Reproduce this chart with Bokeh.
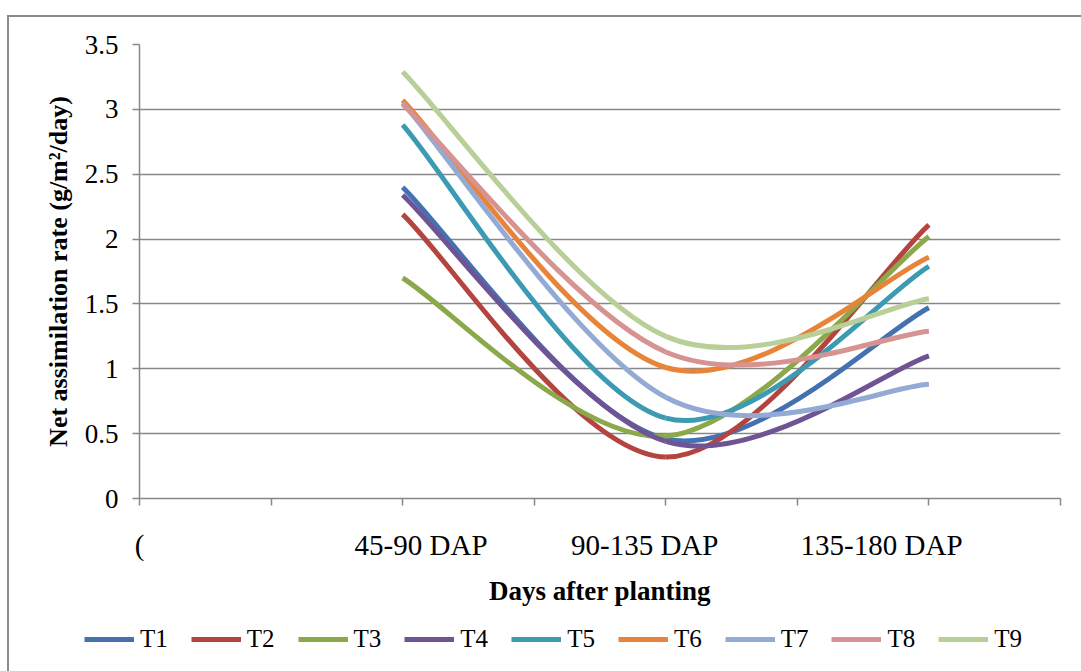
import numpy as np
from bokeh.plotting import figure
from bokeh.layouts import column
from bokeh.models import (Range1d, FixedTicker, LinearAxis, Legend, LegendItem,
                          ColumnDataSource, InlineStyleSheet)
from bokeh.embed import file_html
from bokeh.resources import INLINE

# Growth stages (category axis) and their positions on the x scale
stages = ["45-90 DAP", "90-135 DAP", "135-180 DAP"]
stage_pos = [1, 2, 3]
lead_label = "("

# Net assimilation rate (g/m2/day) per treatment
t1 = [2.40, 0.46, 1.47]
t2 = [2.19, 0.32, 2.11]
t3 = [1.70, 0.48, 2.02]
t4 = [2.34, 0.44, 1.10]
t5 = [2.88, 0.62, 1.79]
t6 = [3.07, 1.01, 1.86]
t7 = [3.05, 0.78, 0.88]
t8 = [3.04, 1.13, 1.29]
t9 = [3.29, 1.25, 1.54]

treatments = ["T1", "T2", "T3", "T4", "T5", "T6", "T7", "T8", "T9"]
series = [t1, t2, t3, t4, t5, t6, t7, t8, t9]
colors = ["#4472B0", "#B4443F", "#8BA84B", "#6E5494", "#3D9AB3",
          "#E8843A", "#92AAD4", "#D79392", "#B9CF98"]

y_ticks = [0, 0.5, 1, 1.5, 2, 2.5, 3, 3.5]
x_marks = [0, 0.5, 1, 1.5, 2, 2.5, 3, 3.5]
# where the stage labels sit along the axis
label_anchor = [0, 1.07, 1.92, 2.82]

FONT = "Liberation Serif"
GRID = "#878787"
LINE_W = 5


def smooth_segments(xs, ys):
    """Cubic Bezier segments through the points (Catmull-Rom style tangents)."""
    pts = np.column_stack([xs, ys]).astype(float)
    n = len(pts)
    seg = dict(x0=[], y0=[], x1=[], y1=[], cx0=[], cy0=[], cx1=[], cy1=[])
    for i in range(n - 1):
        prev = pts[i - 1] if i > 0 else pts[i]
        nxt = pts[i + 2] if i + 2 < n else pts[i + 1]
        c0 = pts[i] + (pts[i + 1] - prev) / 6.0
        c1 = pts[i + 1] - (nxt - pts[i]) / 6.0
        seg["x0"].append(pts[i][0]); seg["y0"].append(pts[i][1])
        seg["x1"].append(pts[i + 1][0]); seg["y1"].append(pts[i + 1][1])
        seg["cx0"].append(c0[0]); seg["cy0"].append(c0[1])
        seg["cx1"].append(c1[0]); seg["cy1"].append(c1[1])
    return seg


# ---- main chart -----------------------------------------------------------
p = figure(width=1081, height=615,
           x_range=Range1d(0, 3.5), y_range=Range1d(0, 3.5),
           output_backend="svg", toolbar_location=None,
           min_border_left=139, min_border_right=21,
           min_border_top=44, min_border_bottom=117)
p.outline_line_color = None
p.background_fill_color = "white"
p.border_fill_color = "white"

# horizontal gridlines only
p.xgrid.visible = False
p.ygrid.ticker = FixedTicker(ticks=y_ticks)
p.ygrid.grid_line_color = GRID
p.ygrid.grid_line_width = 1.5

# y axis
ya = p.yaxis[0]
ya.ticker = FixedTicker(ticks=y_ticks)
ya.major_label_overrides = {v: f"{v:g}" for v in y_ticks}
ya.axis_line_color = GRID
ya.axis_line_width = 1.5
ya.major_tick_line_color = GRID
ya.major_tick_line_width = 1.5
ya.major_tick_in = 0
ya.major_tick_out = 7
ya.minor_tick_line_color = None
ya.major_label_standoff = 14
ya.major_label_text_font = FONT
ya.major_label_text_font_size = "27px"
ya.major_label_text_color = "black"
ya.axis_label = "Net assimilation rate (g/m\u00b2/day)"
ya.axis_label_text_font = FONT
ya.axis_label_text_font_style = "bold"
ya.axis_label_text_font_size = "26px"
ya.axis_label_text_color = "black"
ya.axis_label_standoff = 9

# x axis: tick marks
xa = p.xaxis[0]
xa.ticker = FixedTicker(ticks=x_marks)
xa.major_label_overrides = {v: "" for v in x_marks}
xa.major_label_text_font_size = "1px"
xa.major_label_standoff = 0
xa.axis_line_color = GRID
xa.axis_line_width = 1.5
xa.major_tick_line_color = GRID
xa.major_tick_line_width = 1.5
xa.major_tick_in = 0
xa.major_tick_out = 7
xa.minor_tick_line_color = None

# x axis: stage labels and title
cat_axis = LinearAxis(ticker=FixedTicker(ticks=label_anchor),
                      major_label_overrides=dict(zip(label_anchor, [lead_label] + stages)))
cat_axis.axis_line_color = None
cat_axis.major_tick_line_color = None
cat_axis.minor_tick_line_color = None
cat_axis.major_tick_out = 0
cat_axis.major_tick_in = 0
cat_axis.major_label_standoff = 23
cat_axis.major_label_text_font = FONT
cat_axis.major_label_text_font_size = "29px"
cat_axis.major_label_text_color = "black"
cat_axis.axis_label = "Days after planting"
cat_axis.axis_label_text_font = FONT
cat_axis.axis_label_text_font_style = "bold"
cat_axis.axis_label_text_font_size = "27px"
cat_axis.axis_label_text_color = "black"
cat_axis.axis_label_standoff = 12
p.add_layout(cat_axis, "below")

# smoothed series
for vals, col in zip(series, colors):
    src = ColumnDataSource(smooth_segments(stage_pos, vals))
    p.bezier(x0="x0", y0="y0", x1="x1", y1="y1",
             cx0="cx0", cy0="cy0", cx1="cx1", cy1="cy1",
             source=src, line_color=col, line_width=LINE_W)

# ---- legend strip ---------------------------------------------------------
lf = figure(width=1081, height=56, x_range=Range1d(0, 1), y_range=Range1d(0, 1),
            output_backend="svg", toolbar_location=None,
            x_axis_location=None, y_axis_location=None,
            min_border=0)
lf.grid.visible = False
lf.outline_line_color = None
lf.background_fill_color = "white"
lf.border_fill_color = "white"

# the strip keeps its own full-width frame instead of lining up with the chart
free_frame = "frame_align" in lf.properties()
if free_frame:
    lf.frame_align = False
    p.frame_align = False
    legend_x, legend_gap = 84, 23
else:
    legend_x, legend_gap = 0, 14

items = []
for name, col in zip(treatments, colors):
    # swatch-only renderer: a single missing point keeps the legend key styled
    r = lf.line(x=[np.nan], y=[np.nan], line_color=col, line_width=LINE_W)
    items.append(LegendItem(label=name, renderers=[r]))

legend = Legend(items=items, orientation="horizontal",
                location=(legend_x, 18),
                glyph_width=50, glyph_height=20, label_standoff=6, spacing=legend_gap,
                padding=0, margin=0,
                border_line_color=None, background_fill_color=None,
                label_text_font=FONT, label_text_font_size="25px",
                label_text_color="black")
lf.add_layout(legend)

# chart-area border drawn on the left and top edges
border_css = InlineStyleSheet(css="""
:host::after {
  content: "";
  position: absolute;
  left: 7px; top: 15px; right: 0px; bottom: 0px;
  border-left: 2px solid #8A8A8A;
  border-top: 2px solid #8A8A8A;
  pointer-events: none;
  z-index: 100;
}
""")

page = column(p, lf, spacing=0, stylesheets=[border_css])

open("out.html", "w").write(file_html(page, INLINE))
